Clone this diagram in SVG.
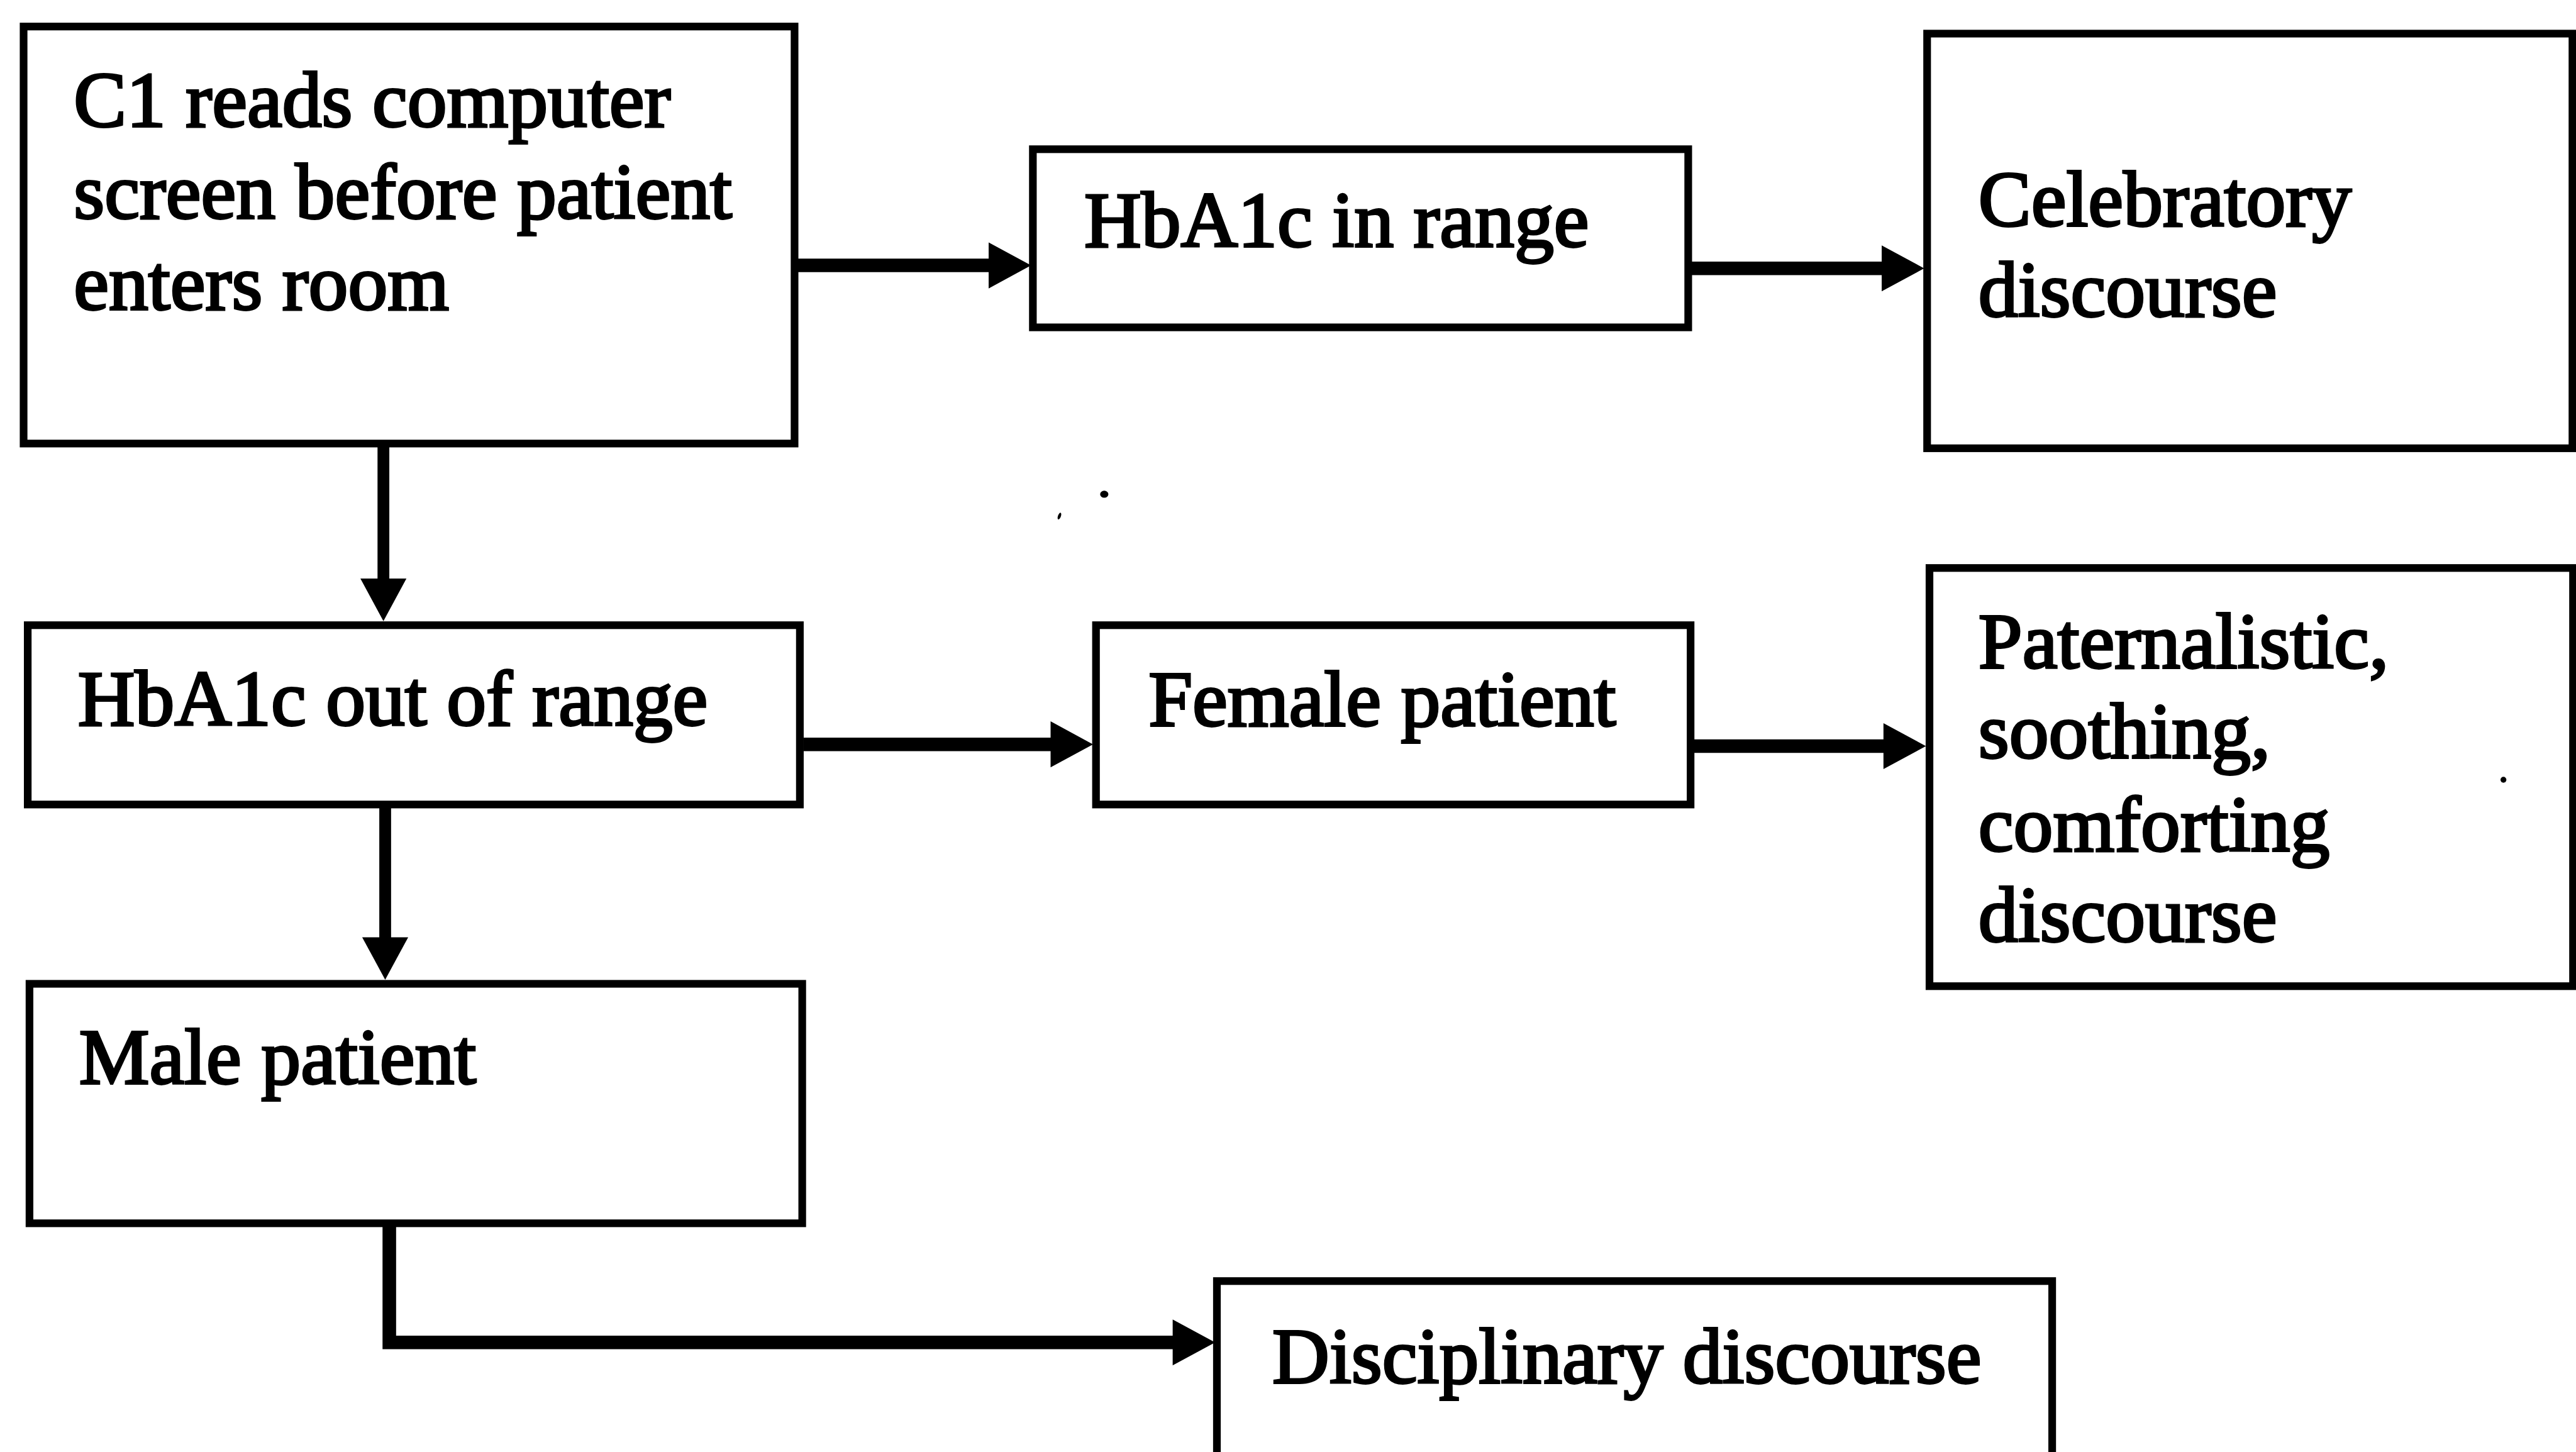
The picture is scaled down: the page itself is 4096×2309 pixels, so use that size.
<svg xmlns="http://www.w3.org/2000/svg" width="4096" height="2309" viewBox="0 0 4096 2309">
  <style>
    .box { fill: #fff; stroke: #000; stroke-width: 13; }
    .lbl { font-family: "Liberation Serif", "Times New Roman", serif; font-size: 134px; fill: #000; stroke: #000; stroke-width: 4; }
    .wire { fill: none; stroke: #000; stroke-width: 23; stroke-linejoin: miter; }
    .wire.v { stroke-width: 20; }
  </style>
  <defs>
    <marker id="head" markerUnits="userSpaceOnUse" markerWidth="74" markerHeight="80" refX="2" refY="39" orient="auto" overflow="visible">
      <path d="M0,0 L72,39 L0,78 Z" fill="#000"/>
    </marker>
  </defs>
  <rect width="4096" height="2309" fill="#fff"/>
  <g transform="scale(0.93794)">
    <g id="connectors">
      <path class="wire" d="M1352,450 H1678" marker-end="url(#head)"/>
      <path class="wire" d="M2868,455 H3192" marker-end="url(#head)"/>
      <path class="wire v" d="M650,758 V983" marker-end="url(#head)"/>
      <path class="wire" d="M1362,1262 H1783" marker-end="url(#head)"/>
      <path class="wire" d="M2872,1265 H3195" marker-end="url(#head)"/>
      <path class="wire v" d="M653,1370 V1591" marker-end="url(#head)"/>
      <path class="wire" d="M660,2080 V2276 H1990" marker-end="url(#head)"/>
    </g>

    <g id="node-reads-screen">
      <rect class="box" x="40" y="45" width="1307" height="707"/>
      <text class="lbl" x="125" y="214">C1 reads computer</text>
      <text class="lbl" x="125" y="370">screen before patient</text>
      <text class="lbl" x="125" y="525">enters room</text>
    </g>

    <g id="node-in-range">
      <rect class="box" x="1751" y="253" width="1111" height="302"/>
      <text class="lbl" x="1838" y="418">HbA1c in range</text>
    </g>

    <g id="node-celebratory">
      <rect class="box" x="3267" y="57" width="1094" height="703"/>
      <text class="lbl" x="3354" y="383">Celebratory</text>
      <text class="lbl" x="3354" y="536">discourse</text>
    </g>

    <g id="node-out-of-range">
      <rect class="box" x="47" y="1060" width="1309" height="304"/>
      <text class="lbl" x="132" y="1229">HbA1c out of range</text>
    </g>

    <g id="node-female">
      <rect class="box" x="1858" y="1060" width="1008" height="304"/>
      <text class="lbl" x="1947" y="1230">Female patient</text>
    </g>

    <g id="node-paternalistic">
      <rect class="box" x="3271" y="963" width="1091" height="709"/>
      <text class="lbl" x="3354" y="1132">Paternalistic,</text>
      <text class="lbl" x="3354" y="1285">soothing,</text>
      <text class="lbl" x="3354" y="1443">comforting</text>
      <text class="lbl" x="3354" y="1596">discourse</text>
    </g>

    <g id="node-male">
      <rect class="box" x="50" y="1668" width="1310" height="406"/>
      <text class="lbl" x="134" y="1837">Male patient</text>
    </g>

    <g id="node-disciplinary">
      <rect class="box" x="2063" y="2172" width="1416" height="360"/>
      <text class="lbl" x="2157" y="2345">Disciplinary discourse</text>
    </g>

    <!-- stray specks of ink -->
    <g id="specks" fill="#000">
      <ellipse cx="1872" cy="838" rx="7" ry="6"/>
      <ellipse cx="1796" cy="875" rx="2.5" ry="6" transform="rotate(20 1796 875)"/>
      <ellipse cx="4244" cy="1322" rx="5" ry="5"/>
    </g>
  </g>
</svg>
